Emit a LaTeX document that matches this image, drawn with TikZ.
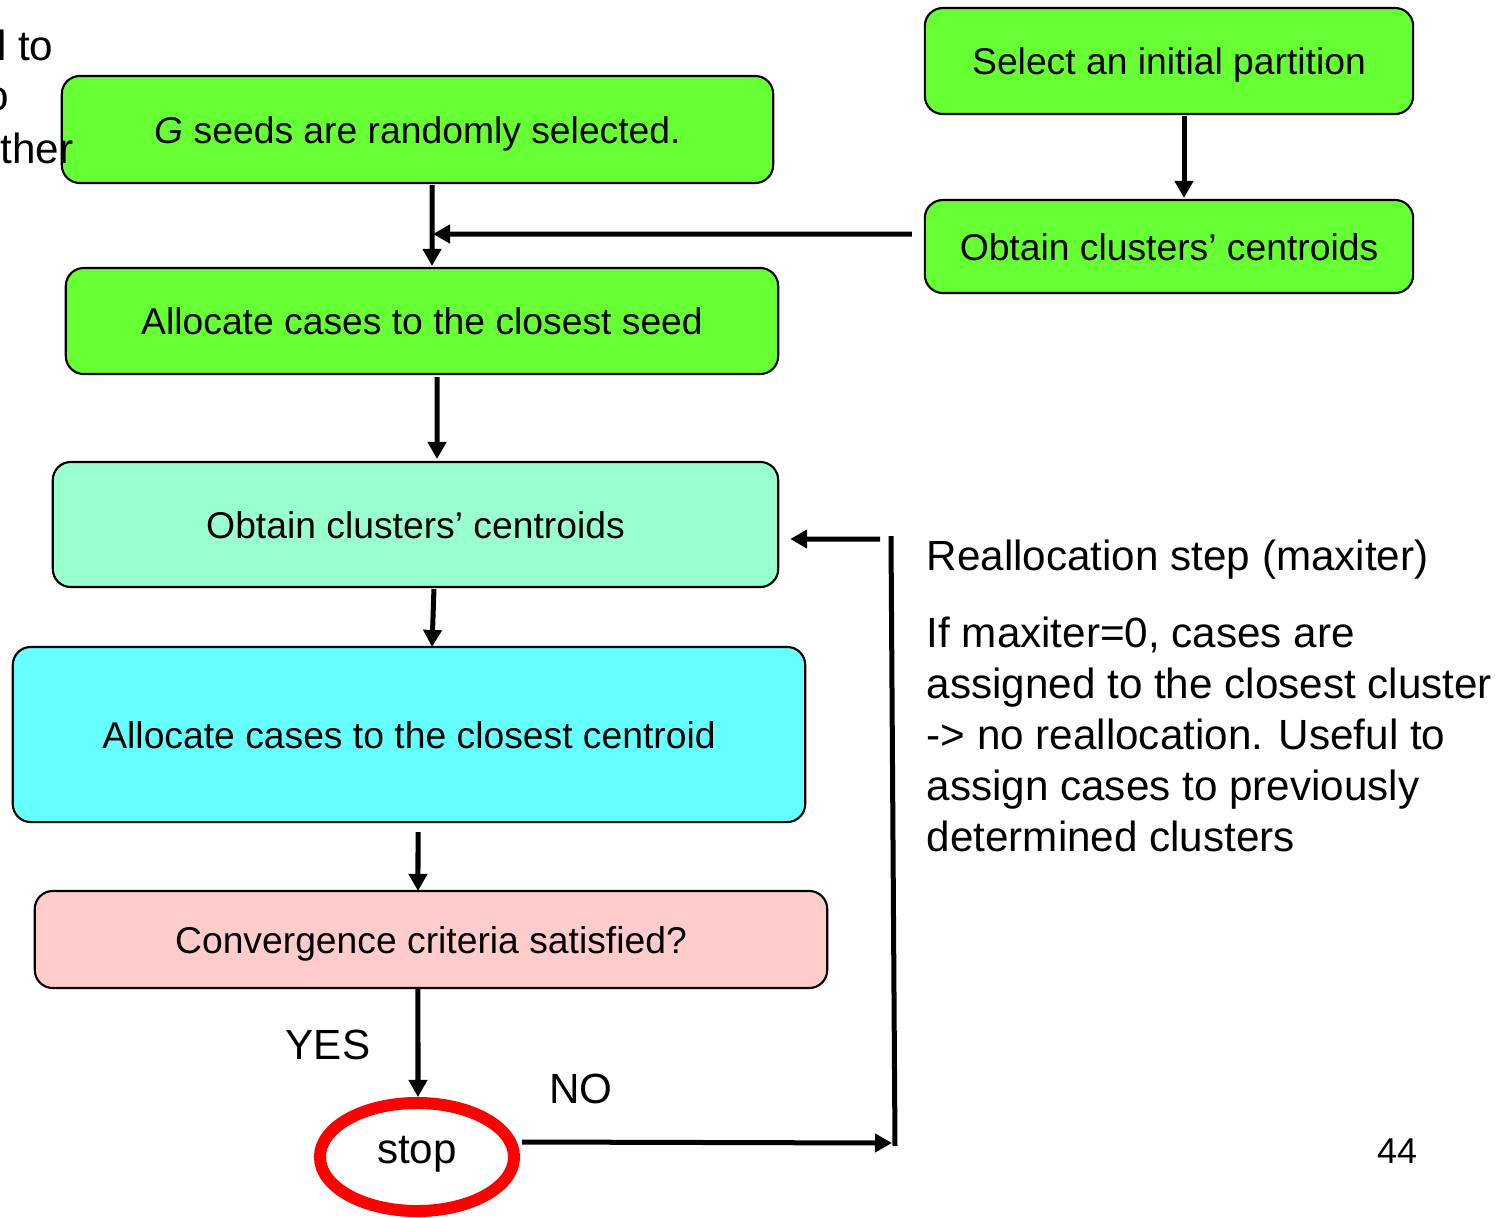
\documentclass[tikz,border=0pt]{standalone}
\usepackage{fontspec}
\setmainfont{Liberation Sans}
\usetikzlibrary{arrows.meta,shapes}
\definecolor{seedgreen}{HTML}{66FF33}
\definecolor{mint}{HTML}{99FFCC}
\definecolor{aqua}{HTML}{66FFFF}
\definecolor{rose}{HTML}{FFCCCC}
\tikzstyle{edge} = [draw,line width=0.05cm,-]
\tikzstyle{dedge} = [draw,line width=0.05cm,-{Triangle[length=0.17cm,width=0.18cm]}]
\tikzset{
  stepbox/.style = {draw=black, line width=0.6pt, rounded corners=0.18cm, align=center,
    inner sep=0pt, outer sep=0pt, text height=0.27cm, text depth=0pt,
    font=\fontsize{10.6}{12.7}\selectfont},
  stopnode/.style = {ellipse, draw=red, line width=0.12cm, minimum width=1.94cm,
    minimum height=1.08cm, inner sep=0pt, font=\fontsize{12}{14}\selectfont},% the red ring
  note/.style = {inner sep=0pt, font=\fontsize{12}{14.5}\selectfont},
}

\begin{document}
\begin{tikzpicture}[x=0.01cm,y=-0.01cm]
    \useasboundingbox (0,0) rectangle (1508,1217);
    \clip (0,0) rectangle (1508,1217);

    % left column
    \node[stepbox,fill=seedgreen,minimum width=7.11cm,minimum height=1.07cm] (gseed) at (417.5,129.5) {\textit{G} seeds are randomly selected.};
    \node[stepbox,fill=seedgreen,minimum width=7.12cm,minimum height=1.06cm] (allocseed) at (422,321) {Allocate cases to the closest seed};
    \node[stepbox,fill=mint,minimum width=7.25cm,minimum height=1.25cm] (cent2) at (415.5,524.5) {Obtain clusters' centroids};
    \node[stepbox,fill=aqua,minimum width=7.92cm,minimum height=1.75cm] (alloccent) at (409,734.5) {Allocate cases to the closest centroid};
    \node[stepbox,fill=rose,minimum width=7.92cm,minimum height=0.97cm] (conv) at (431,939.5) {Convergence criteria satisfied?};
    \node[stopnode] (stop) at (417,1157) {\raisebox{0.15cm}{stop}};

    % right column
    \node[stepbox,fill=seedgreen,minimum width=4.88cm,minimum height=1.06cm] (initpart) at (1169,61) {Select an initial partition};
    \node[stepbox,fill=seedgreen,minimum width=4.88cm,minimum height=0.93cm] (cent1) at (1169,246.5) {Obtain clusters' centroids};

    \coordinate (join) at (433,234);
    \coordinate (nob) at (892,1143);
    \coordinate (lowend) at (895,1146);
    \coordinate (topend) at (891,536);
    \coordinate (back) at (880,539);

    \path[dedge,shorten <=0.02cm,shorten >=0.02cm] ([xshift=0.145cm]gseed.south) -- ([xshift=0.10cm]allocseed.north);
    \path[dedge] ([xshift=-0.13cm,yshift=0.125cm]cent1.west) -- (join);
    \path[dedge,shorten <=0.02cm,shorten >=0.02cm] ([xshift=0.15cm]initpart.south) -- ([xshift=0.15cm]cent1.north);
    \path[dedge,shorten <=0.03cm,shorten >=0.03cm] ([xshift=0.15cm]allocseed.south) -- ([xshift=0.215cm]cent2.north);
    \path[dedge,shorten <=0.02cm] ([xshift=0.185cm]cent2.south) -- ([xshift=0.23cm]alloccent.north);
    \path[dedge,shorten <=0.1cm] ([xshift=0.09cm]alloccent.south) -- ([xshift=-0.13cm]conv.north);
    \path[dedge] ([xshift=-0.13cm]conv.south) -- ([xshift=0.01cm]stop.north);

    % NO loop back
    \path[dedge] ([xshift=0.02cm,yshift=0.15cm]stop.east) -- (nob);
    \path[edge] (lowend) -- (topend);
    \path[dedge] (back) -- ([xshift=0.12cm,yshift=-0.145cm]cent2.east);

    \node[note] (yes) at (328,1045) {YES};
    \node[note] (no) at (581,1089) {NO};
    \node[note,anchor=base west] (realloc) at (926,570) {Reallocation step (maxiter)};
    \node[note,anchor=base west,align=left] (expl) at (926,851) {If maxiter=0, cases are\\assigned to the closest cluster\\-> no reallocation. Useful to\\assign cases to previously\\determined clusters};
    \node[note,font=\fontsize{10.2}{12}\selectfont] (page) at (1397,1151) {44};

    % cut-off text at the left edge
    \node[note,anchor=base east] (frag1) at (54,60) {l to};
    \node[note,anchor=base east] (frag2) at (10,110) {o};
    \node[note,anchor=base east] (frag3) at (74,163) {ther};
\end{tikzpicture}
\end{document}
